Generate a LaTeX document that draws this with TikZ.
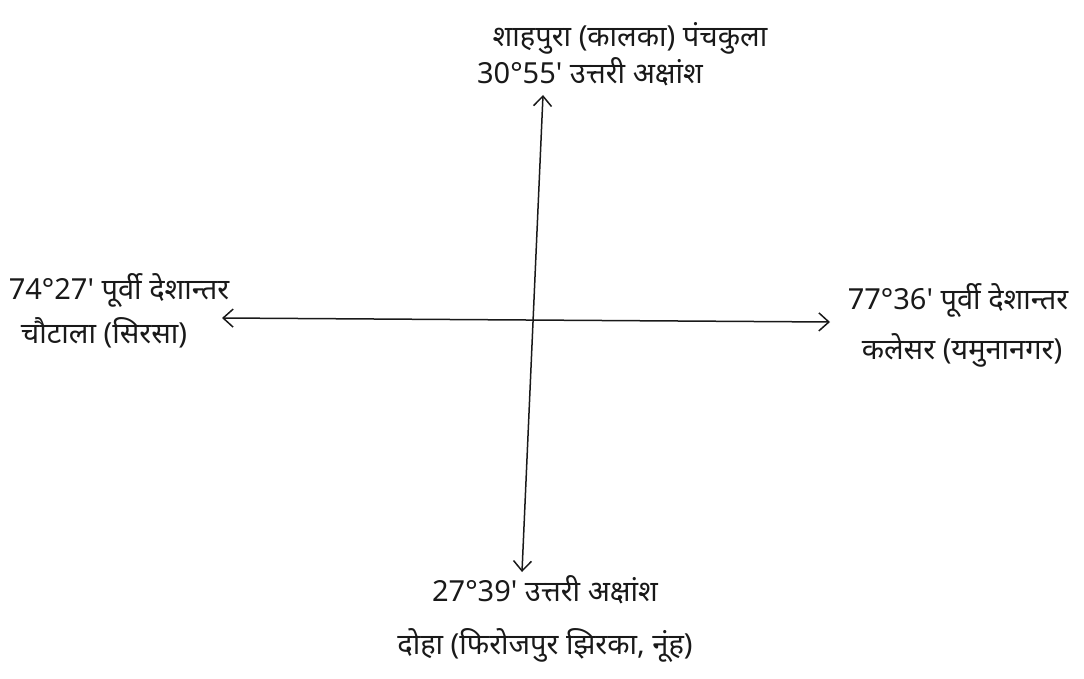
\documentclass[tikz,border=0pt]{standalone}
\usepackage{fontspec}
\newfontfamily\deva[Script=Devanagari]{Noto Sans}
\usetikzlibrary{arrows.meta}
\begin{document}
\begin{tikzpicture}[x=1pt,y=-1pt,
  axis/.style={line width=1.5pt,draw=black!90,{Straight Barb[length=10pt,width=18pt,line width=1.5pt]}-{Straight Barb[length=10pt,width=18pt,line width=1.5pt]}},
  lbl/.style={font=\deva\fontsize{29}{32}\selectfont,inner sep=0pt,text=black!90}]
\useasboundingbox (0,0) rectangle (1084,679);
\coordinate (n) at (543,95);
\coordinate (s) at (522,572);
\coordinate (w) at (222,318);
\coordinate (e) at (830,322);
\draw[axis] (s) -- (n);
\draw[axis] (w) -- (e);
\node[lbl] (t1) at (630,38) {शाहपुरा (कालका) पंचकुला};
\node[lbl] (t2) at (590,72) {30°55' उत्तरी अक्षांश};
\node[lbl] (l1) at (119,290) {74°27' पूर्वी देशान्तर};
\node[lbl] (l2) at (104,333) {चौटाला (सिरसा)};
\node[lbl] (r1) at (958,300) {77°36' पूर्वी देशान्तर};
\node[lbl] (r2) at (962,350) {कलेसर (यमुनानगर)};
\node[lbl] (b1) at (545,590) {27°39' उत्तरी अक्षांश};
\node[lbl] (b2) at (545,645) {दोहा (फिरोजपुर झिरका, नूंह)};
\end{tikzpicture}
\end{document}
